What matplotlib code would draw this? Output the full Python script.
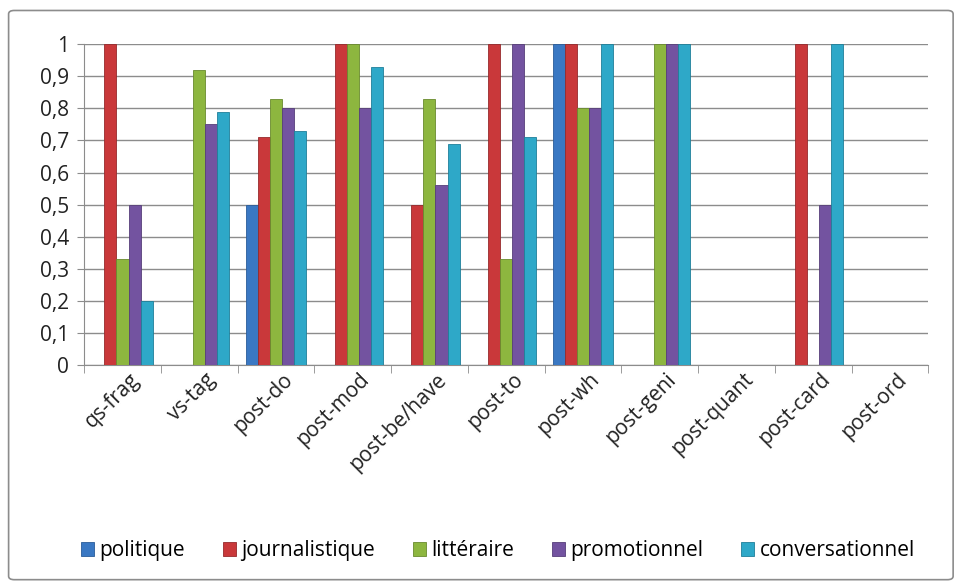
import matplotlib.pyplot as plt
import numpy as np
from matplotlib.patches import FancyBboxPatch

plt.rcParams['font.family'] = ['Open Sans', 'DejaVu Sans']

categories = ["qs-frag", "vs-tag", "post-do", "post-mod", "post-be/have", "post-to",
              "post-wh", "post-geni", "post-quant", "post-card", "post-ord"]
politique = [0, 0, 0.5, 0, 0, 0, 1, 0, 0, 0, 0]
journalistique = [1, 0, 0.71, 1, 0.5, 1, 1, 0, 0, 1, 0]
litteraire = [0.33, 0.92, 0.83, 1, 0.83, 0.33, 0.8, 1, 0, 0, 0]
promotionnel = [0.5, 0.75, 0.8, 0.8, 0.56, 1, 0.8, 1, 0, 0.5, 0]
conversationnel = [0.2, 0.79, 0.73, 0.93, 0.69, 0.71, 1, 1, 0, 1, 0]

series = [("politique", politique, "#3A78C3", "#2A5C99"),
          ("journalistique", journalistique, "#C9383A", "#962A2C"),
          ("littéraire", litteraire, "#8DB63F", "#6A8A2E"),
          ("promotionnel", promotionnel, "#7353A0", "#573E7A"),
          ("conversationnel", conversationnel, "#2EA8C8", "#1F7F99")]

fig = plt.figure(figsize=(9.56, 5.82), dpi=100)
fig.patches.append(FancyBboxPatch((0.009, 0.004), 0.988, 0.978, boxstyle="round,pad=0,rounding_size=0.006",
                                  transform=fig.transFigure, fill=False, edgecolor="#8c8c8c", lw=1.2))
ax = fig.add_axes([0.088, 0.373, 0.883, 0.551])

x = np.arange(len(categories))
w = 0.157
for i, (name, vals, col, edge) in enumerate(series):
    ax.bar(x + (i - 2) * w, vals, w, color=col, edgecolor=edge, lw=0.6, label=name, zorder=3)

ax.set_xlim(-0.5, len(categories) - 0.5)
ax.set_ylim(0, 1)
ax.set_yticks(np.arange(0, 1.01, 0.1))
ax.set_yticklabels(["0"] + [f"{v:.1f}".replace(".", ",") for v in np.arange(0.1, 0.95, 0.1)] + ["1"])
ax.set_xticks(x + 0.08)
ax.set_xticklabels(categories, rotation=45, ha="right", rotation_mode="anchor")
ax.set_xticks(np.arange(-0.5, len(categories), 1), minor=True)
ax.tick_params(axis="x", which="major", length=0, pad=3, labelsize=15, colors="#222222")
ax.tick_params(axis="x", which="minor", length=6, color="#8c8c8c", direction="out")
ax.tick_params(axis="y", length=5, color="#8c8c8c", labelsize=15, colors="#222222", pad=6)
ax.grid(axis="y", color="#8c8c8c", lw=1, zorder=0)
for s in ["top", "right"]:
    ax.spines[s].set_visible(False)
for s in ["left", "bottom"]:
    ax.spines[s].set_color("#8c8c8c")

ax.legend(loc="center", bbox_to_anchor=(0.49, -0.58), ncol=5, frameon=False, fontsize=15,
          handlelength=0.65, handleheight=0.65, handletextpad=0.25, columnspacing=1.8)

fig.savefig("out.png", dpi=100)
